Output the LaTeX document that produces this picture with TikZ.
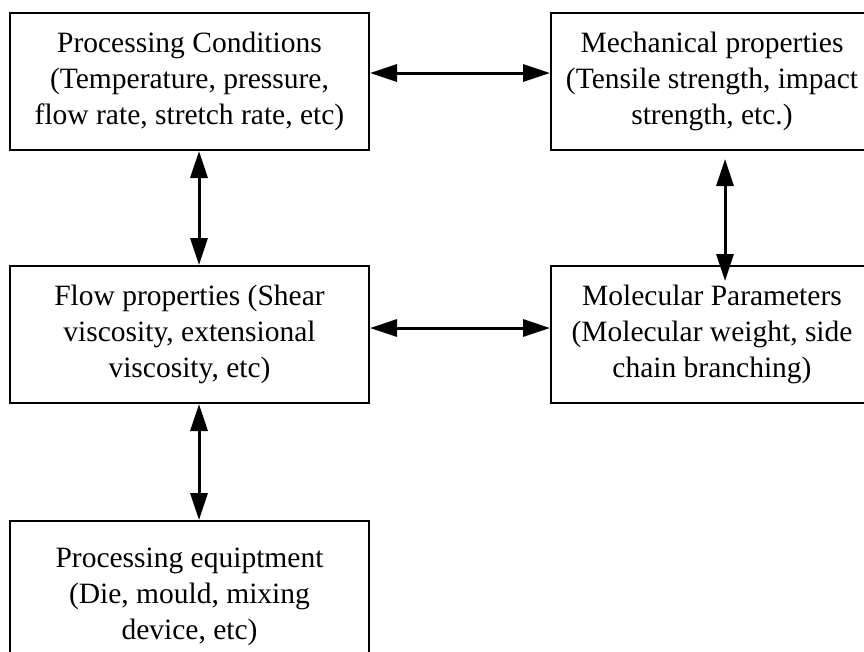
\documentclass[tikz,border=0pt]{standalone}
\usepackage{fontspec}
\setmainfont{Liberation Serif}
\usetikzlibrary{arrows.meta}
\begin{document}
\begin{tikzpicture}[x=1pt,y=-1pt,
  box/.style={draw, line width=2pt, align=center, inner sep=0pt,
    font=\fontsize{29.5}{36}\selectfont},
  dbl/.style={line width=3pt,
    {Triangle[length=27pt,width=17pt]}-{Triangle[length=27pt,width=17pt]}}]
\clip (0,0) rectangle (864,651);
\fill[white] (0,0) rectangle (864,651);
\node[box, minimum width=359pt, minimum height=137pt] (pc) at (189.5,81.5)
  {Processing Conditions\\(Temperature, pressure,\\flow rate, stretch rate, etc)};
\node[box, minimum width=322pt, minimum height=137pt] (mp) at (712,81.5)
  {Mechanical properties\\(Tensile strength, impact\\strength, etc.)};
\node[box, minimum width=359pt, minimum height=137pt] (fp) at (189.5,334.5)
  {Flow properties (Shear\\viscosity, extensional\\viscosity, etc)};
\node[box, minimum width=322pt, minimum height=137pt] (mol) at (712,334.5)
  {Molecular Parameters\\(Molecular weight, side\\chain branching)};
\node[box, minimum width=359pt, minimum height=152pt] (pe) at (189.5,597)
  {Processing equiptment\\(Die, mould, mixing\\device, etc)};
\draw[dbl] ([yshift=8.5pt]pc.east) -- ([yshift=8.5pt]mp.west);
\draw[dbl] ([yshift=6.5pt]fp.east) -- ([yshift=6.5pt]mol.west);
\draw[dbl] ([xshift=9.5pt]pc.south) -- ([xshift=9.5pt]fp.north);
\draw[dbl] ([xshift=9.5pt]fp.south) -- ([xshift=9.5pt]pe.north);
\draw[dbl] ([shift={(13pt,-8pt)}]mp.south) -- ([shift={(13pt,-16pt)}]mol.north);
\end{tikzpicture}
\end{document}
